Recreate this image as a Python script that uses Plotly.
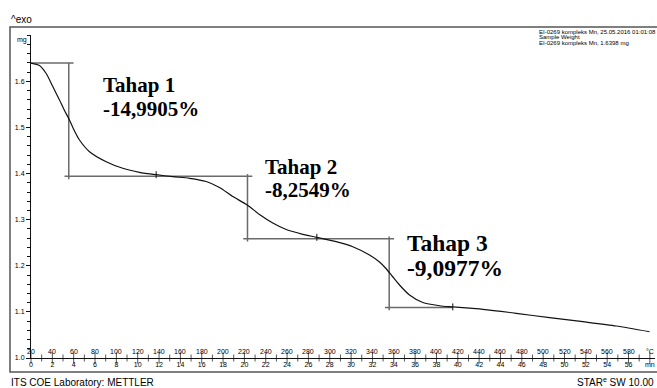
import numpy as np
import plotly.graph_objects as go

# --- TGA record: time (min) vs sample mass (mg) ---
time_min = [0.000, 0.797, 1.425, 2.043, 2.671, 3.140, 3.561, 4.077, 4.545, 5.483,
            7.048, 8.604, 10.169, 11.734, 13.290, 14.855, 16.420, 17.666, 18.913,
            20.262, 21.415, 22.662, 23.918, 25.473, 26.785, 28.603, 30.159, 31.724,
            32.662, 33.224, 33.880, 34.536, 35.473, 36.720, 38.285, 39.531, 42.343,
            45.473, 48.594, 51.715, 54.845, 57.966]
mass_mg = [1.6398, 1.6345, 1.6171, 1.5889, 1.5597, 1.5369, 1.5184, 1.4924, 1.4729,
           1.4475, 1.4258, 1.4115, 1.4028, 1.3976, 1.3933, 1.3898, 1.3829, 1.3699,
           1.3503, 1.3319, 1.3113, 1.2928, 1.2787, 1.2683, 1.2618, 1.2523, 1.2414,
           1.2234, 1.2082, 1.1952, 1.1768, 1.1584, 1.1367, 1.1204, 1.1134, 1.1108,
           1.1056, 1.0970, 1.0874, 1.0787, 1.0694, 1.0570]

# --- step evaluation ---
sample_mass = 1.6398                      # mg
step_names = ["Tahap 1", "Tahap 2", "Tahap 3"]
step_pct = [-14.9905, -8.2549, -9.0977]   # % of sample weight
step_time = [3.54, 20.29, 33.57]          # min, position of the step verticals
mark_time = [11.73, 26.79, 39.53]         # min, evaluation marks on the curve

# --- axis labelling ---
minute_ticks = list(range(0, 57, 2))
temp_labels = list(range(20, 581, 20))    # deg C, heating 10 K/min from 20 deg C
T_START, RATE = 20, 10
mass_ticks = [1.0, 1.1, 1.2, 1.3, 1.4, 1.5, 1.6]

# step levels
levels = [sample_mass]
for p in step_pct:
    levels.append(levels[-1] + p / 100.0 * sample_mass)

SMALL = "Liberation Sans Narrow, Liberation Sans, Arial, sans-serif"
SANS = "Liberation Sans, Arial, sans-serif"
SERIF = "Liberation Serif, Times New Roman, serif"
INK = "#000000"

fig = go.Figure()

# step construction lines
sx, sy = [], []
n = len(step_time)
for i in range(n + 1):
    x0 = 0.0 if i == 0 else step_time[i - 1] - 0.4
    x1 = mark_time[-1] if i == n else step_time[i] + 0.45
    sx += [x0, x1, None]
    sy += [levels[i], levels[i], None]
for i in range(n):
    top = levels[i] if i == 0 else levels[i] + 0.005
    sx += [step_time[i], step_time[i], None]
    sy += [top, levels[i + 1] - 0.006, None]
fig.add_trace(go.Scatter(x=sx, y=sy, mode="lines",
                         line=dict(color="#6a6a6a", width=1.5),
                         hoverinfo="skip", showlegend=False))

# mass curve
fig.add_trace(go.Scatter(x=time_min, y=mass_mg, mode="lines",
                         line=dict(color="#111111", width=1.2, shape="spline", smoothing=0.7),
                         showlegend=False))

# evaluation marks
fig.add_trace(go.Scatter(x=mark_time, y=np.interp(mark_time, time_min, mass_mg),
                         mode="markers",
                         marker=dict(symbol="line-ns", size=5,
                                     line=dict(color="#111111", width=1)),
                         showlegend=False, hoverinfo="skip"))

# x-axis ticks crossing the axis line
all_min = list(range(0, 59))
fig.add_trace(go.Scatter(x=all_min, y=[1.0] * len(all_min), mode="markers",
                         marker=dict(symbol="line-ns",
                                     size=[8 if m % 2 == 0 else 5 for m in all_min],
                                     line=dict(color="#111111", width=1)),
                         cliponaxis=False, showlegend=False, hoverinfo="skip"))

annotations = []
# temperature row
for T in temp_labels:
    annotations.append(dict(x=(T - T_START) / RATE, y=1.0, xref="x", yref="y",
                            text=str(T), showarrow=False, yshift=7,
                            font=dict(family=SMALL, size=7, color=INK)))
annotations.append(dict(x=58, y=1.0, xref="x", yref="y", text="°C", showarrow=False,
                        yshift=7, font=dict(family=SMALL, size=7, color=INK)))

# step labels
label_pos = [(6.56, 1.5913, 1.5406, 21), (21.74, 1.4143, 1.3636, 21),
             (35.05, 1.2495, 1.1952, 23.5)]
for name, p, (lx, ly1, ly2, fs) in zip(step_names, step_pct, label_pos):
    pct_txt = f"{p:.4f}".replace(".", ",") + "%"
    annotations.append(dict(x=lx, y=ly1, xref="x", yref="y", text=f"<b>{name}</b>",
                            showarrow=False, xanchor="left", yanchor="middle",
                            font=dict(family=SERIF, size=fs, color="#000")))
    annotations.append(dict(x=lx, y=ly2, xref="x", yref="y", text=f"<b>{pct_txt}</b>",
                            showarrow=False, xanchor="left", yanchor="middle",
                            font=dict(family=SERIF, size=fs, color="#000")))

W, H = 657, 388
L, R, T, B = 31, 2, 35, 30
pw, ph = W - L - R, H - T - B


def px(xp):
    return (xp - L) / pw


def py(yp):
    return (H - B - yp) / ph


annotations += [
    dict(x=px(22), y=py(40), xref="paper", yref="paper", text="mg", showarrow=False,
         xanchor="center", yanchor="middle", font=dict(family=SMALL, size=7, color=INK)),
    dict(x=px(9), y=py(19), xref="paper", yref="paper", text="^exo", showarrow=False,
         xanchor="left", yanchor="middle", font=dict(family=SANS, size=10, color=INK)),
    dict(x=px(9), y=py(382), xref="paper", yref="paper", text="ITS COE Laboratory: METTLER",
         showarrow=False, xanchor="left", yanchor="middle",
         font=dict(family=SMALL, size=10, color=INK)),
    dict(x=px(656), y=py(382), xref="paper", yref="paper",
         text="STAR<sup>e</sup> SW 10.00", showarrow=False, xanchor="right", yanchor="middle",
         font=dict(family=SANS, size=10, color=INK)),
]
header = ["EI-0269 kompleks Mn, 25.05.2016 01:01:08", "Sample Weight",
          f"EI-0269 kompleks Mn, {sample_mass:.4f} mg"]
for line, yp in zip(header, [32.0, 37.5, 43.0]):
    annotations.append(dict(x=px(537), y=py(yp), xref="paper", yref="paper", text=line,
                            showarrow=False, xanchor="left", yanchor="middle",
                            font=dict(family=SMALL, size=6, color=INK)))

fig.update_layout(
    width=W, height=H,
    margin=dict(l=L, r=R, t=T, b=B, pad=0),
    paper_bgcolor="white", plot_bgcolor="white",
    showlegend=False,
    annotations=annotations,
    shapes=[dict(type="rect", xref="paper", yref="paper",
                 x0=px(10), x1=px(680), y0=py(372), y1=py(27),
                 line=dict(color="#555", width=1.5), layer="below")],
    xaxis=dict(range=[0, pw / 10.67], showgrid=False, zeroline=False,
               showline=True, linecolor="#111", linewidth=1, ticks="",
               tickmode="array", tickvals=minute_ticks + [58],
               ticktext=[str(m) for m in minute_ticks] + ["mn"],
               tickfont=dict(family=SMALL, size=7, color=INK)),
    yaxis=dict(range=[1.0, 1.0 + ph / 461.0], showgrid=False, zeroline=False,
               showline=True, linecolor="#111", linewidth=1,
               ticks="outside", ticklen=4, tickcolor="#111",
               tickmode="array", tickvals=mass_ticks,
               ticktext=[f"{v:.1f}" for v in mass_ticks],
               tickfont=dict(family=SMALL, size=7, color=INK),
               minor=dict(tickvals=list(np.round(np.arange(1.0, 1.701, 0.02), 2)),
                          ticks="outside", ticklen=3, tickcolor="#111")),
)

fig.write_html("out.html")
